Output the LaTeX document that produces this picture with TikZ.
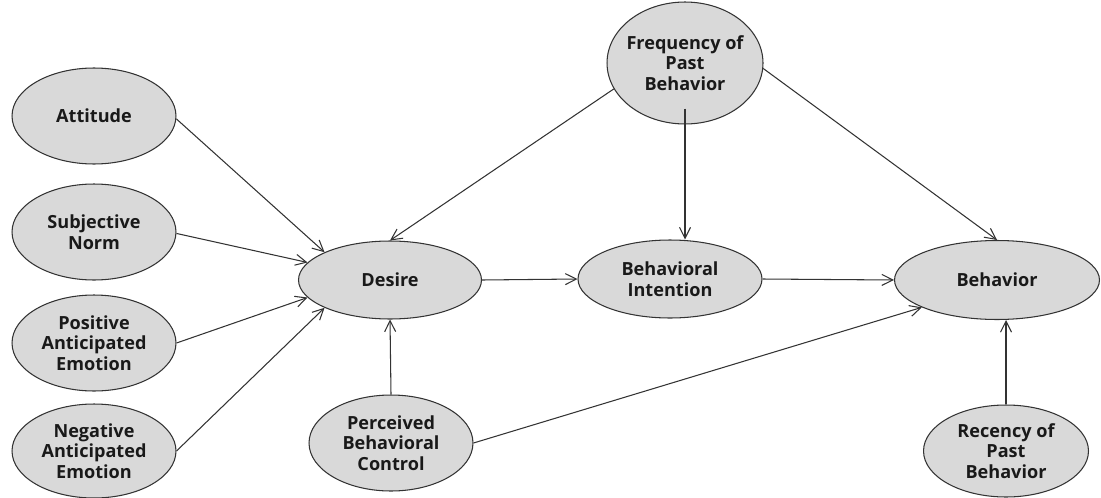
\documentclass[tikz,border=0pt]{standalone}
\usepackage{fontspec}
\setmainfont{Open Sans}
\usepackage{tikz}
\usetikzlibrary{shapes.geometric, arrows.meta}
\definecolor{ovalgray}{HTML}{D9D9D9}
\definecolor{linegray}{HTML}{333333}
\tikzstyle{construct} = [ellipse, draw = linegray, line width = 0.6pt, fill = ovalgray, inner sep = 0pt,
align = center, font = \fontsize{10.3}{11.7}\selectfont\bfseries, text = black!90]
\tikzstyle{arrow} = [line width = 0.6pt, draw = linegray, ->, >={Straight Barb[length=2.2mm, width=2.2mm]}]

\begin{document}
\begin{tikzpicture}[x = 0.02cm, y = -0.02cm]

    \useasboundingbox (0,0) rectangle (1101,497);

    \node (attitude) [construct, minimum width = 3.28cm, minimum height = 1.92cm] at (94,116) {Attitude};
    \node (subjnorm) [construct, minimum width = 3.28cm, minimum height = 1.92cm] at (94,232) {Subjective\\Norm};
    \node (posemo) [construct, minimum width = 3.28cm, minimum height = 1.92cm] at (94,343) {Positive\\Anticipated\\Emotion};
    \node (negemo) [construct, minimum width = 3.28cm, minimum height = 1.88cm] at (94,451) {Negative\\Anticipated\\Emotion};

    \node (desire) [construct, minimum width = 3.66cm, minimum height = 1.56cm] at (390,280) {Desire};
    \node (intention) [construct, minimum width = 3.68cm, minimum height = 1.56cm] at (670,279) {Behavioral\\Intention};
    \node (behavior) [construct, minimum width = 4.10cm, minimum height = 1.58cm] at (997,280) {Behavior};

    \node (frequency) [construct, inner xsep = -0.2cm, minimum width = 3.12cm, minimum height = 2.44cm] at (685,63) {Frequency of\\Past\\Behavior};
    \node (pbc) [construct, minimum width = 3.28cm, minimum height = 1.92cm] at (391,443) {Perceived\\Behavioral\\Control};
    \node (recency) [construct, inner xsep = -0.1cm, minimum width = 3.30cm, minimum height = 1.84cm] at (1006,451) {Recency of\\Past\\Behavior};

    \draw[arrow] (attitude.-2) -- (desire.157);
    \draw[arrow] (subjnorm.-1) -- (desire.168);
    \draw[arrow] (posemo.east) -- (desire.192);
    \draw[arrow] (negemo.east) -- (desire.203);
    \draw[arrow] (frequency.200) -- (desire.north);
    \draw[arrow] (pbc.north) -- (desire.south);

    \draw[arrow] (desire.east) -- (intention.west);
    \draw[arrow] ([yshift = 0.32cm]frequency.south) -- (frequency.south |- intention.north);
    \draw[arrow] (intention.east) -- (behavior.west);

    \draw[arrow] (frequency.-4) -- (behavior.north);
    \draw[arrow] (pbc.east) -- (behavior.200);
    \draw[arrow] (recency.north) -- (recency.north |- behavior.south);

\end{tikzpicture}
\end{document}
